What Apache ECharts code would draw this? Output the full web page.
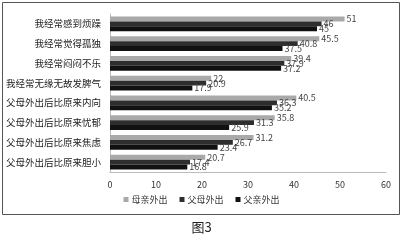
<!DOCTYPE html>
<html><head><meta charset="utf-8">
<script src="https://cdn.jsdelivr.net/npm/echarts@6/dist/echarts.min.js"></script>
<style>html,body{margin:0;padding:0;background:#fff}#c{width:403px;height:242px}</style>
</head><body><div id="c"></div>
<script>
const categories = ['我经常感到烦躁','我经常觉得孤独','我经常闷闷不乐','我经常无缘无故发脾气','父母外出后比原来内向','父母外出后比原来忧郁','父母外出后比原来焦虑','父母外出后比原来胆小'];
const seriesNames = ['母亲外出','父母外出','父亲外出'];
const motherAway = [51,45.5,39.4,22,40.5,35.8,31.2,20.7];
const bothAway = [46,40.8,37.9,20.9,36.3,31.3,26.7,17.4];
const fatherAway = [45,37.5,37.2,17.9,35.2,25.9,23.4,16.8];
const xTicks = [0,10,20,30,40,50,60];
const colors = ['#a9a9a9','#2e2e2e','#111111'];
const font = '"Noto Sans CJK SC", sans-serif';
const chart = echarts.init(document.getElementById('c'), null, {renderer:'canvas'});
function mk(name, data, i){
  return {name, type:'bar', data, barGap:'0%', barCategoryGap:'26%',
    itemStyle:{color:colors[i]},
    label:{show:true, position:'right', distance:2, fontSize:9, color:'#444', fontFamily:font},
    emphasis:{disabled:true}};
}
chart.setOption({
  animation:false,
  textStyle:{fontFamily:font},
  grid:{left:110, right:17, top:14, bottom:70, containLabel:false},
  xAxis:{type:'value', min:xTicks[0], max:xTicks[xTicks.length-1], interval:10,
    axisLine:{show:true, lineStyle:{color:'#bbb'}}, axisTick:{show:false}, splitLine:{show:false},
    axisLabel:{fontSize:9, color:'#333', margin:8, fontFamily:font}},
  yAxis:{type:'category', data:categories, inverse:true,
    axisLine:{show:true, lineStyle:{color:'#bbb'}}, axisTick:{show:false},
    axisLabel:{fontSize:9.5, color:'#222', margin:9, fontFamily:font}},
  legend:{data:seriesNames, bottom:33, left:'center', itemWidth:5, itemHeight:5, itemGap:12,
    icon:'rect', textStyle:{fontSize:9, color:'#333', fontFamily:font, padding:[0,0,0,-2]}},
  graphic:[
    {type:'rect', shape:{x:2.5, y:2.5, width:397, height:212}, style:{fill:'none', stroke:'#555', lineWidth:1}, z:-1},
    {type:'text', left:'center', top:221, style:{text:'图3', fontSize:13, fill:'#222', fontFamily:font}}
  ],
  series:[mk(seriesNames[0],motherAway,0), mk(seriesNames[1],bothAway,1), mk(seriesNames[2],fatherAway,2)]
});
</script></body></html>
